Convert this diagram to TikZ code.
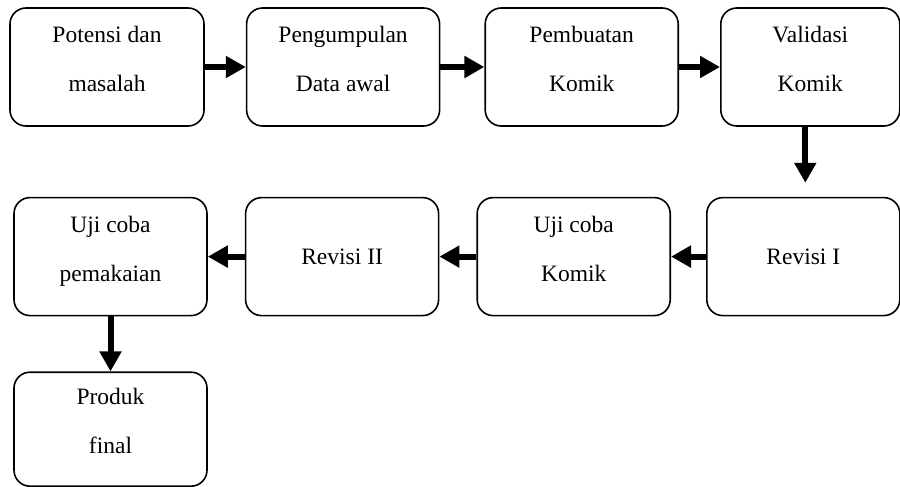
\documentclass[tikz,border=0pt]{standalone}
\usepackage{fontspec}
\setmainfont{Liberation Serif}
\usepackage{tikz}
\usetikzlibrary{arrows.meta, positioning}

\begin{document}
\begin{tikzpicture}[
    x=1pt, y=1pt,
    stage/.style={rectangle, draw, line width=1.6pt, rounded corners=16pt,
        minimum width=193pt, minimum height=118pt, align=center,
        font=\fontsize{23.5pt}{49pt}\selectfont},
    twolines/.style={text depth=16pt},
    flow/.style={line width=6pt, -{Triangle[length=20pt, width=21pt]}}
]
\useasboundingbox (0,0) rectangle (900,-487);

% first row
\node[stage, twolines, minimum width=194pt] (potensi) at (107,-67) {Potensi dan\\masalah};
\node[stage, twolines, right=41pt of potensi] (pengumpulan) {Pengumpulan\\Data awal};
\node[stage, twolines, right=44pt of pengumpulan] (pembuatan) {Pembuatan\\Komik};
\node[stage, twolines, minimum width=179pt, right=41pt of pembuatan] (validasi) {Validasi\\Komik};

% second row, right to left
\node[stage, anchor=north east] (revisiA) at ([yshift=-70pt]validasi.south east) {Revisi I};
\node[stage, twolines, left=35pt of revisiA] (ujiKomik) {Uji coba\\Komik};
\node[stage, left=37pt of ujiKomik] (revisiB) {Revisi II};
\node[stage, twolines, left=37pt of revisiB] (ujiPakai) {Uji coba\\pemakaian};

% last box
\node[stage, twolines, minimum height=114pt, below=55pt of ujiPakai] (produk) {Produk\\final};

\draw[flow] (potensi) -- (pengumpulan);
\draw[flow] (pengumpulan) -- (pembuatan);
\draw[flow] (pembuatan) -- (validasi);
\draw[flow, shorten >=14pt] ([xshift=-5pt]validasi.south) -- ([xshift=-5pt]validasi.south |- revisiA.north);
\draw[flow] (revisiA) -- (ujiKomik);
\draw[flow] (ujiKomik) -- (revisiB);
\draw[flow] (revisiB) -- (ujiPakai);
\draw[flow] (ujiPakai) -- (produk);
\end{tikzpicture}
\end{document}
